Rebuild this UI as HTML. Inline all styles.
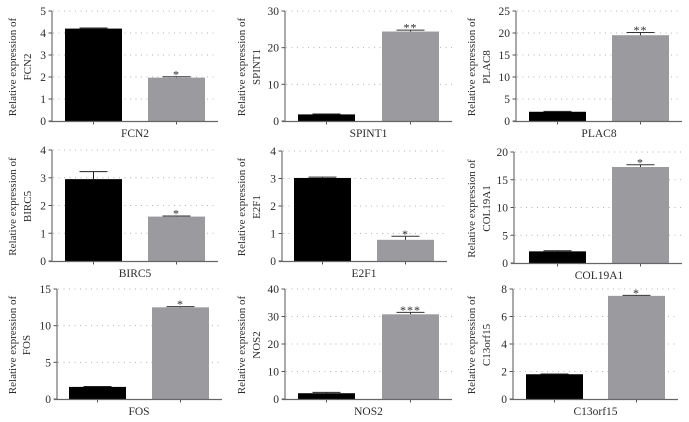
<!DOCTYPE html>
<html>
<head>
<meta charset="utf-8">
<title>Relative expression bar charts</title>
<style>
html,body{margin:0;padding:0;background:#fff;width:689px;height:422px;overflow:hidden}
svg{display:block}
text{font-family:"Liberation Serif",serif;fill:#2b2b2b}
</style>
</head>
<body>
<svg id="figure" width="689" height="422" viewBox="0 0 689 422" xmlns="http://www.w3.org/2000/svg"></svg>
<script>
const genes = ["FCN2","SPINT1","PLAC8","BIRC5","E2F1","COL19A1","FOS","NOS2","C13orf15"];
const tickLabels = [
  [0,1,2,3,4,5],
  [0,10,20,30],
  [0,5,10,15,20,25],
  [0,1,2,3,4],
  [0,1,2,3,4],
  [0,5,10,15,20],
  [0,5,10,15],
  [0,10,20,30,40],
  [0,2,4,6,8]
];
const controlValues = [4.2,1.8,2.1,2.95,3.02,2.1,1.65,2.1,1.8];
const controlErrors = [0.03,0.1,0.1,0.27,0.03,0.1,0.05,0.3,0.02];
const treatedValues = [1.97,24.4,19.5,1.6,0.77,17.3,12.5,30.8,7.5];
const treatedErrors = [0.04,0.4,0.6,0.02,0.13,0.4,0.1,0.7,0.04];
const significance = ["*","**","**","*","*","*","*","***","*"];

/* Layout of each panel: [axisX, plotTop, plotBottom, plotRight, bar1Left, bar2Left, barWidth, labelX1, labelX2] */
const panelFrames = [
  [52,11,121,218,65,148,57,12,27],
  [285,11,121,452,298,382,57,241,256],
  [516,11,121,682,529,612,57,471,486],
  [52,150,261,218,65,148,57,12,27],
  [282,151,261,447,294,377,57,241,256],
  [514,152,263,682,529,612,57,471,486],
  [57,289,399,222,69,152,57,12,26],
  [285,289,399,452,298,382,57,241,256],
  [513,289,399,678,526,608,57,471,486]
];

const svg = document.getElementById('figure');
const NS = 'http://www.w3.org/2000/svg';
function make(parent, tag, attrs, content) {
  const el = document.createElementNS(NS, tag);
  for (const k in attrs) el.setAttribute(k, attrs[k]);
  if (content !== undefined) el.textContent = content;
  parent.appendChild(el);
  return el;
}

genes.forEach(function (gene, i) {
  const f = panelFrames[i];
  const axisX = f[0], top = f[1], bottom = f[2], right = f[3];
  const ticks = tickLabels[i];
  const yMax = ticks[ticks.length - 1];
  const yScale = function (v) { return bottom - (v / yMax) * (bottom - top); };
  const barWidth = f[6];

  const g = make(svg, 'g', {});
  
  

  ticks.forEach(function (t) {
    const y = yScale(t);
    if (t !== 0) {
      const grid = make(g, 'line', {x1: axisX + 1, x2: right, y1: y, y2: y, stroke: '#b4b4b4', 'stroke-width': 1, 'stroke-dasharray': '1 4.5'});
      
      
    }
    const tick = make(g, 'line', {x1: axisX - 3.5, x2: axisX, y1: y, y2: y, stroke: '#555', 'stroke-width': 1});
    
    
    const lab = make(g, 'text', {x: axisX - 6, y: y + 4, 'text-anchor': 'end', 'font-size': 11.5}, String(t));
    
    
  });

  const series = [
    {left: f[4], value: controlValues[i], err: controlErrors[i], color: '#000000', name: 'control', line: '#222'},
    {left: f[5], value: treatedValues[i], err: treatedErrors[i], color: '#9b9a9f', name: 'treated', line: '#333'}
  ];
  series.forEach(function (s) {
    const yTop = yScale(s.value);
    const bar = make(g, 'rect', {x: s.left, y: yTop, width: barWidth, height: bottom - yTop, fill: s.color});
    
    
    const cx = s.left + barWidth / 2;
    const yErr = yScale(s.value + s.err);
    const stem = make(g, 'line', {x1: cx, x2: cx, y1: yTop, y2: yErr, stroke: s.line, 'stroke-width': 1});
    
    
    const cap = make(g, 'line', {x1: cx - 14, x2: cx + 14, y1: yErr, y2: yErr, stroke: s.line, 'stroke-width': 1});
    
    
    const xt = make(g, 'line', {x1: cx, x2: cx, y1: bottom, y2: bottom + 3.5, stroke: '#555', 'stroke-width': 1});
    
    
  });

  const starX = f[5] + barWidth / 2;
  const starY = yScale(treatedValues[i] + treatedErrors[i]);
  const star = make(g, 'text', {x: starX, y: starY + 1.5, 'text-anchor': 'middle', 'font-size': 12, 'letter-spacing': 1}, significance[i]);
  
  

  const yAxis = make(g, 'line', {x1: axisX, x2: axisX, y1: top, y2: bottom, stroke: '#555', 'stroke-width': 1});
  
  
  const xAxis = make(g, 'line', {x1: axisX - 3, x2: right, y1: bottom + 0.5, y2: bottom + 0.5, stroke: '#666', 'stroke-width': 1.2});
  
  

  const xMid = (f[4] + f[5] + barWidth) / 2;
  const xTitle = make(g, 'text', {x: xMid, y: bottom + 16, 'text-anchor': 'middle', 'font-size': 11.5}, gene);
  
  

  const midY = (top + bottom) / 2 + 1;
  const title1 = make(g, 'text', {x: 0, y: 0, 'text-anchor': 'middle', 'font-size': 11, transform: 'translate(' + (f[7] + 4) + ',' + midY + ') rotate(-90)'}, 'Relative expression of');
  
  
  const title2 = make(g, 'text', {x: 0, y: 0, 'text-anchor': 'middle', 'font-size': 11, transform: 'translate(' + (f[8] + 4) + ',' + midY + ') rotate(-90)'}, gene);
  
  
});
</script>
</body>
</html>
